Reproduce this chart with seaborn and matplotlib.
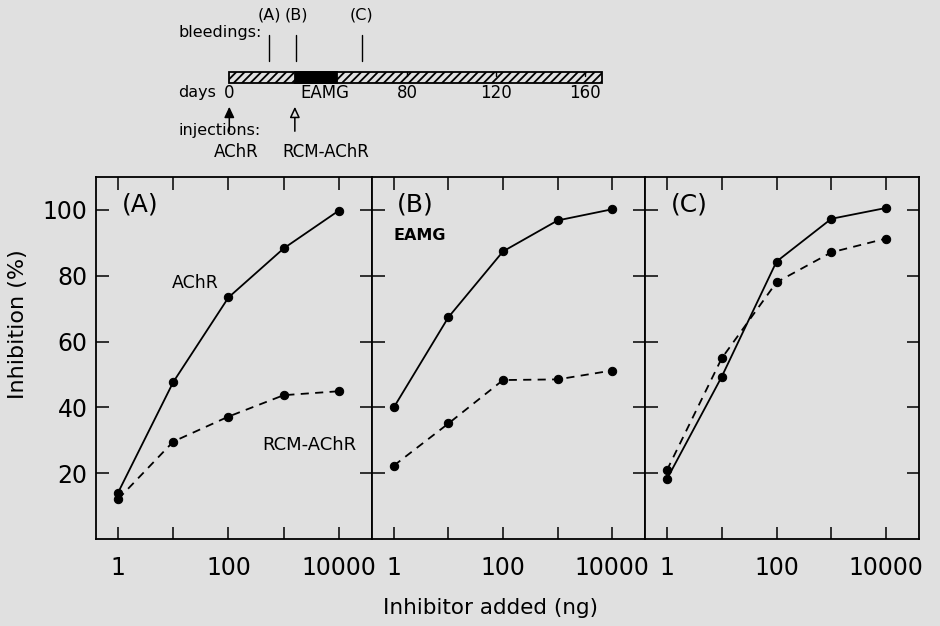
import matplotlib
matplotlib.use("Agg")
import matplotlib.pyplot as plt
from matplotlib.patches import Rectangle, FancyArrowPatch
import seaborn as sns
import pandas as pd

# ---- data -------------------------------------------------------------
doses = [1, 10, 100, 1000, 10000]

achr_A = [14.1, 47.7, 73.4, 88.3, 99.8]
rcm_A = [12.1, 29.6, 37.2, 43.7, 44.9]
achr_B = [40.0, 67.4, 87.4, 96.8, 100.2]
rcm_B = [22.3, 35.1, 48.3, 48.5, 51.2]
achr_C = [18.2, 49.3, 84.3, 97.3, 100.6]
rcm_C = [20.9, 54.9, 78.0, 87.1, 91.3]

panel_names = ["(A)", "(B)", "(C)"]
y_ticks = [20, 40, 60, 80, 100]
x_ticklabels = ["1", "", "100", "", "10000"]

# immunization schedule (days)
bleed_days = [18, 30, 59.5]
bleed_labels = ["(A)", "(B)", "(C)"]
inject_days = [0, 29.5]
inject_labels = ["AChR", "RCM-AChR"]
day_ticks = [0, 80, 120, 160]
eamg_span = [29.5, 48.5]
schedule_end = 167.6

BG = "#e0e0e0"
W, H = 940, 626

sns.set_style("ticks")
plt.rcParams["font.family"] = ["DejaVu Sans"]
plt.rcParams["text.color"] = "black"
plt.rcParams["hatch.linewidth"] = 1.3
plt.rcParams["axes.linewidth"] = 1.3

fig = plt.figure(figsize=(W / 100, H / 100), dpi=100, facecolor=BG)


def px_box(x0, y0, x1, y1):
    return [x0 / W, 1 - y1 / H, (x1 - x0) / W, (y1 - y0) / H]


# ---- dose-response panels --------------------------------------------
frames = []
for name, a, r in zip(panel_names, [achr_A, achr_B, achr_C], [rcm_A, rcm_B, rcm_C]):
    frames.append(pd.DataFrame({"panel": name, "dose": doses, "inhibition": a, "antigen": "AChR"}))
    frames.append(pd.DataFrame({"panel": name, "dose": doses, "inhibition": r, "antigen": "RCM-AChR"}))
df = pd.concat(frames, ignore_index=True)

edges = [96, 372, 645, 919]
axes = []
for i, name in enumerate(panel_names):
    ax = fig.add_axes(px_box(edges[i], 177, edges[i + 1], 539))
    ax.set_facecolor(BG)
    sub = df[df["panel"] == name]
    sns.lineplot(
        data=sub, x="dose", y="inhibition", style="antigen",
        dashes={"AChR": "", "RCM-AChR": (4.5, 3.5)},
        markers={"AChR": "o", "RCM-AChR": "o"},
        color="black", linewidth=1.3, markersize=6,
        markeredgecolor="black", legend=False, ax=ax,
    )
    ax.set_xscale("log")
    ax.set_xlim(10 ** -0.4, 10 ** 4.6)
    ax.set_ylim(0, 110)
    ax.set_xticks(doses)
    ax.minorticks_off()
    ax.set_yticks(y_ticks)
    ax.tick_params(direction="in", length=9, width=1.1, top=True, right=True,
                   labelsize=17, colors="black")
    ax.tick_params(axis="x", pad=12)
    ax.tick_params(axis="y", pad=6)
    ax.set_xticklabels(x_ticklabels)
    if i > 0:
        ax.set_yticklabels([])
    ax.set_xlabel("")
    ax.set_ylabel("")
    for s in ax.spines.values():
        s.set_color("black")
    ax.text(0.16, 0.925, name, transform=ax.transAxes, fontsize=18,
            ha="center", va="center")
    axes.append(ax)

fig.text(195 / W, 1 - 283 / H, "AChR", fontsize=12.5, ha="center", va="center")
fig.text(309 / W, 1 - 445 / H, "RCM-AChR", fontsize=13, ha="center", va="center")
fig.text(420 / W, 1 - 235 / H, "EAMG", fontsize=11.5, fontweight="bold",
         ha="center", va="center")

fig.text(18 / W, 1 - 324 / H, "Inhibition (%)", rotation=90, fontsize=16,
         ha="center", va="center")
fig.text(490 / W, 1 - 608 / H, "Inhibitor added (ng)", fontsize=15.5,
         ha="center", va="center")

# ---- schedule timeline ------------------------------------------------
x0_px, x1_px = 229.3, 601.7
tl = fig.add_axes(px_box(x0_px, 0, x1_px, 165))
tl.set_xlim(0, schedule_end)
tl.set_ylim(165, 0)
tl.axis("off")
tl.patch.set_alpha(0)
dpp = schedule_end / (x1_px - x0_px)  # days per pixel

tl.add_patch(Rectangle((0, 72), schedule_end, 11, facecolor=BG, edgecolor="black",
                       hatch="////", linewidth=1.3, clip_on=False))
tl.add_patch(Rectangle((eamg_span[0], 72), eamg_span[1] - eamg_span[0], 11,
                       facecolor="black", edgecolor="black", linewidth=1.3, clip_on=False))
for d in day_ticks[1:]:
    tl.plot([d, d], [72, 76], color="black", lw=1.0, clip_on=False)

for d, lab in zip(day_ticks, ["0", "80", "120", "160"]):
    tl.text(d, 93, lab, fontsize=12, ha="center", va="center")
tl.text(eamg_span[0] + 6 * dpp, 93, "EAMG", fontsize=12, ha="left", va="center")

for d, lab in zip(bleed_days, bleed_labels):
    tl.plot([d, d], [35, 61], color="black", lw=1.0, clip_on=False)
    tl.text(d, 15, lab, fontsize=11.5, ha="center", va="center")

label_x = (178 - x0_px) * dpp
tl.text(label_x, 33, "bleedings:", fontsize=11.5, ha="left", va="center")
tl.text(label_x, 93, "days", fontsize=11.5, ha="left", va="center")
tl.text(label_x, 131, "injections:", fontsize=11.5, ha="left", va="center")

for d, filled in zip(inject_days, [True, False]):
    arr = FancyArrowPatch((d, 134), (d, 104),
                          arrowstyle="-|>,head_length=3.2,head_width=1.5",
                          mutation_scale=2.0, lw=1.1,
                          facecolor="black" if filled else BG,
                          edgecolor="black", clip_on=False)
    tl.add_patch(arr)
offsets = [7 * dpp, 31 * dpp]
for d, lab, off in zip(inject_days, inject_labels, offsets):
    tl.text(d + off, 152, lab, fontsize=12, ha="center", va="center")

fig.savefig("out.png", dpi=100, facecolor=BG)
